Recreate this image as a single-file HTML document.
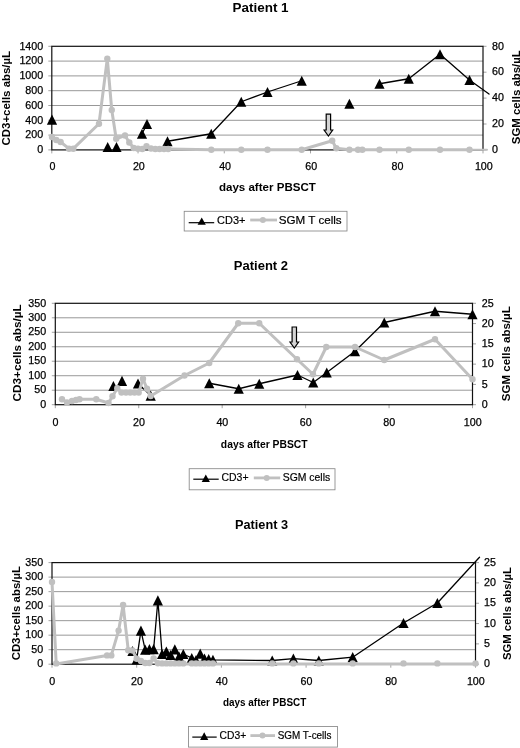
<!DOCTYPE html>
<html><head><meta charset="utf-8"><title>Patients</title><style>
html,body{margin:0;padding:0;background:#fff;}
svg{display:block;}
text{font-family:"Liberation Sans", sans-serif;fill:#000;}
.tk{font-size:10.7px;stroke:#000;stroke-width:0.25px;}
.ti{font-size:13.4px;font-weight:bold;}
.ax{font-size:11.4px;font-weight:bold;}
.lg{font-size:11.6px;stroke:#000;stroke-width:0.2px;}
</style></head>
<body><svg width="520" height="748" viewBox="0 0 520 748">
<rect width="520" height="748" fill="#fff"/>
<line x1="51.8" y1="61.10" x2="483" y2="61.10" stroke="#8c8c8c" stroke-width="0.9"/>
<line x1="51.8" y1="75.90" x2="483" y2="75.90" stroke="#8c8c8c" stroke-width="0.9"/>
<line x1="51.8" y1="90.70" x2="483" y2="90.70" stroke="#8c8c8c" stroke-width="0.9"/>
<line x1="51.8" y1="105.50" x2="483" y2="105.50" stroke="#8c8c8c" stroke-width="0.9"/>
<line x1="51.8" y1="120.30" x2="483" y2="120.30" stroke="#8c8c8c" stroke-width="0.9"/>
<line x1="51.8" y1="135.10" x2="483" y2="135.10" stroke="#8c8c8c" stroke-width="0.9"/>
<line x1="48.3" y1="149.90" x2="51.8" y2="149.90" stroke="#999" stroke-width="0.9"/>
<text x="43.20" y="153.10" text-anchor="end" class="tk">0</text>
<line x1="48.3" y1="135.10" x2="51.8" y2="135.10" stroke="#999" stroke-width="0.9"/>
<text x="43.20" y="138.30" text-anchor="end" class="tk">200</text>
<line x1="48.3" y1="120.30" x2="51.8" y2="120.30" stroke="#999" stroke-width="0.9"/>
<text x="43.20" y="123.50" text-anchor="end" class="tk">400</text>
<line x1="48.3" y1="105.50" x2="51.8" y2="105.50" stroke="#999" stroke-width="0.9"/>
<text x="43.20" y="108.70" text-anchor="end" class="tk">600</text>
<line x1="48.3" y1="90.70" x2="51.8" y2="90.70" stroke="#999" stroke-width="0.9"/>
<text x="43.20" y="93.90" text-anchor="end" class="tk">800</text>
<line x1="48.3" y1="75.90" x2="51.8" y2="75.90" stroke="#999" stroke-width="0.9"/>
<text x="43.20" y="79.10" text-anchor="end" class="tk">1000</text>
<line x1="48.3" y1="61.10" x2="51.8" y2="61.10" stroke="#999" stroke-width="0.9"/>
<text x="43.20" y="64.30" text-anchor="end" class="tk">1200</text>
<line x1="48.3" y1="46.30" x2="51.8" y2="46.30" stroke="#999" stroke-width="0.9"/>
<text x="43.20" y="49.50" text-anchor="end" class="tk">1400</text>
<line x1="483" y1="149.90" x2="486.5" y2="149.90" stroke="#999" stroke-width="0.9"/>
<text x="492.10" y="153.10" text-anchor="start" class="tk">0</text>
<line x1="483" y1="124.00" x2="486.5" y2="124.00" stroke="#999" stroke-width="0.9"/>
<text x="492.10" y="127.20" text-anchor="start" class="tk">20</text>
<line x1="483" y1="98.10" x2="486.5" y2="98.10" stroke="#999" stroke-width="0.9"/>
<text x="492.10" y="101.30" text-anchor="start" class="tk">40</text>
<line x1="483" y1="72.20" x2="486.5" y2="72.20" stroke="#999" stroke-width="0.9"/>
<text x="492.10" y="75.40" text-anchor="start" class="tk">60</text>
<line x1="483" y1="46.30" x2="486.5" y2="46.30" stroke="#999" stroke-width="0.9"/>
<text x="492.10" y="49.50" text-anchor="start" class="tk">80</text>
<line x1="51.80" y1="149.9" x2="51.80" y2="153.4" stroke="#999" stroke-width="0.9"/>
<text x="52.60" y="169.8" text-anchor="middle" class="tk">0</text>
<line x1="138.04" y1="149.9" x2="138.04" y2="153.4" stroke="#999" stroke-width="0.9"/>
<text x="138.84" y="169.8" text-anchor="middle" class="tk">20</text>
<line x1="224.28" y1="149.9" x2="224.28" y2="153.4" stroke="#999" stroke-width="0.9"/>
<text x="225.08" y="169.8" text-anchor="middle" class="tk">40</text>
<line x1="310.52" y1="149.9" x2="310.52" y2="153.4" stroke="#999" stroke-width="0.9"/>
<text x="311.32" y="169.8" text-anchor="middle" class="tk">60</text>
<line x1="396.76" y1="149.9" x2="396.76" y2="153.4" stroke="#999" stroke-width="0.9"/>
<text x="397.56" y="169.8" text-anchor="middle" class="tk">80</text>
<line x1="483.00" y1="149.9" x2="483.00" y2="153.4" stroke="#999" stroke-width="0.9"/>
<text x="483.80" y="169.8" text-anchor="middle" class="tk">100</text>
<rect x="51.8" y="46.3" width="431.2" height="103.60000000000001" fill="none" stroke="#111" stroke-width="1.2"/>
<polyline points="142.00,133.75 147.00,124.00" fill="none" stroke="#000" stroke-width="1.3" stroke-linejoin="round" stroke-linecap="round"/>
<polyline points="167.50,141.25 211.25,133.75 241.25,101.75 267.50,92.00 301.75,80.75" fill="none" stroke="#000" stroke-width="1.3" stroke-linejoin="round" stroke-linecap="round"/>
<polyline points="379.50,83.75 408.75,78.75 440.00,54.25 469.50,80.00 489.00,94.00" fill="none" stroke="#000" stroke-width="1.3" stroke-linejoin="round" stroke-linecap="round"/>
<polygon points="46.90,124.80 57.10,124.80 52.00,114.60" fill="#000"/>
<polygon points="102.60,152.10 112.80,152.10 107.70,141.90" fill="#000"/>
<polygon points="111.40,152.10 121.60,152.10 116.50,141.90" fill="#000"/>
<polygon points="136.90,138.85 147.10,138.85 142.00,128.65" fill="#000"/>
<polygon points="141.90,129.10 152.10,129.10 147.00,118.90" fill="#000"/>
<polygon points="162.40,146.35 172.60,146.35 167.50,136.15" fill="#000"/>
<polygon points="206.15,138.85 216.35,138.85 211.25,128.65" fill="#000"/>
<polygon points="236.15,106.85 246.35,106.85 241.25,96.65" fill="#000"/>
<polygon points="262.40,97.10 272.60,97.10 267.50,86.90" fill="#000"/>
<polygon points="296.65,85.85 306.85,85.85 301.75,75.65" fill="#000"/>
<polygon points="344.30,108.85 354.50,108.85 349.40,98.65" fill="#000"/>
<polygon points="374.40,88.85 384.60,88.85 379.50,78.65" fill="#000"/>
<polygon points="403.65,83.85 413.85,83.85 408.75,73.65" fill="#000"/>
<polygon points="434.90,59.35 445.10,59.35 440.00,49.15" fill="#000"/>
<polygon points="464.40,85.10 474.60,85.10 469.50,74.90" fill="#000"/>
<polyline points="52.00,137.00 56.30,140.00 60.60,142.00 69.00,148.70 73.30,148.70 99.00,123.75 107.30,58.75 111.75,110.00 116.20,138.75 125.00,135.50 129.30,142.50 133.70,148.00 138.00,148.70 142.30,149.00 146.50,146.30 151.00,148.50 155.30,149.00 159.60,149.00 164.00,149.00 168.20,149.00 211.30,149.70 241.30,149.70 267.50,149.70 301.70,149.70 332.20,140.70 336.30,148.30 349.40,149.70 358.00,149.70 362.30,149.70 379.50,149.70 408.80,149.70 440.00,149.70 469.50,149.70" fill="none" stroke="#c0c0c0" stroke-width="3" stroke-linejoin="round" stroke-linecap="round"/>
<circle cx="52.00" cy="137.00" r="3.2" fill="#c0c0c0"/>
<circle cx="56.30" cy="140.00" r="3.2" fill="#c0c0c0"/>
<circle cx="60.60" cy="142.00" r="3.2" fill="#c0c0c0"/>
<circle cx="69.00" cy="148.70" r="3.2" fill="#c0c0c0"/>
<circle cx="73.30" cy="148.70" r="3.2" fill="#c0c0c0"/>
<circle cx="99.00" cy="123.75" r="3.2" fill="#c0c0c0"/>
<circle cx="107.30" cy="58.75" r="3.2" fill="#c0c0c0"/>
<circle cx="111.75" cy="110.00" r="3.2" fill="#c0c0c0"/>
<circle cx="116.20" cy="138.75" r="3.2" fill="#c0c0c0"/>
<circle cx="125.00" cy="135.50" r="3.2" fill="#c0c0c0"/>
<circle cx="129.30" cy="142.50" r="3.2" fill="#c0c0c0"/>
<circle cx="133.70" cy="148.00" r="3.2" fill="#c0c0c0"/>
<circle cx="138.00" cy="148.70" r="3.2" fill="#c0c0c0"/>
<circle cx="142.30" cy="149.00" r="3.2" fill="#c0c0c0"/>
<circle cx="146.50" cy="146.30" r="3.2" fill="#c0c0c0"/>
<circle cx="151.00" cy="148.50" r="3.2" fill="#c0c0c0"/>
<circle cx="155.30" cy="149.00" r="3.2" fill="#c0c0c0"/>
<circle cx="159.60" cy="149.00" r="3.2" fill="#c0c0c0"/>
<circle cx="164.00" cy="149.00" r="3.2" fill="#c0c0c0"/>
<circle cx="168.20" cy="149.00" r="3.2" fill="#c0c0c0"/>
<circle cx="211.30" cy="149.70" r="3.2" fill="#c0c0c0"/>
<circle cx="241.30" cy="149.70" r="3.2" fill="#c0c0c0"/>
<circle cx="267.50" cy="149.70" r="3.2" fill="#c0c0c0"/>
<circle cx="301.70" cy="149.70" r="3.2" fill="#c0c0c0"/>
<circle cx="332.20" cy="140.70" r="3.2" fill="#c0c0c0"/>
<circle cx="336.30" cy="148.30" r="3.2" fill="#c0c0c0"/>
<circle cx="349.40" cy="149.70" r="3.2" fill="#c0c0c0"/>
<circle cx="358.00" cy="149.70" r="3.2" fill="#c0c0c0"/>
<circle cx="362.30" cy="149.70" r="3.2" fill="#c0c0c0"/>
<circle cx="379.50" cy="149.70" r="3.2" fill="#c0c0c0"/>
<circle cx="408.80" cy="149.70" r="3.2" fill="#c0c0c0"/>
<circle cx="440.00" cy="149.70" r="3.2" fill="#c0c0c0"/>
<circle cx="469.50" cy="149.70" r="3.2" fill="#c0c0c0"/>
<polyline points="469.50,149.70 487.00,149.70" fill="none" stroke="#c0c0c0" stroke-width="2" stroke-linejoin="round" stroke-linecap="round"/>
<polygon points="326.20,114.20 330.60,114.20 330.60,130.00 332.70,130.00 328.40,136.00 324.10,130.00 326.20,130.00" fill="#d4d4d4" stroke="#000" stroke-width="1.2" stroke-linejoin="miter"/>
<text x="260.6" y="11.8" text-anchor="middle" class="ti" font-size="13.4" textLength="56" lengthAdjust="spacingAndGlyphs">Patient 1</text>
<text x="267.4" y="191" text-anchor="middle" class="ax" textLength="97" lengthAdjust="spacingAndGlyphs">days after PBSCT</text>
<text transform="translate(10.3,98.2) rotate(-90)" text-anchor="middle" class="ax" textLength="94.5" lengthAdjust="spacingAndGlyphs">CD3+cells abs/µL</text>
<text transform="translate(519.7,97.2) rotate(-90)" text-anchor="middle" class="ax" textLength="94" lengthAdjust="spacingAndGlyphs">SGM cells abs/µL</text>
<rect x="184.2" y="211.3" width="162.80" height="19.70" fill="#fff" stroke="#888" stroke-width="0.85"/>
<line x1="188.7" y1="222.7" x2="214.2" y2="222.7" stroke="#000" stroke-width="1.2"/>
<polygon points="197.60,224.80 205.80,224.80 201.70,217.50" fill="#000"/>
<text x="217.1" y="224.2" class="lg" textLength="28.3" lengthAdjust="spacingAndGlyphs">CD3+</text>
<line x1="250.2" y1="220" x2="277" y2="220" stroke="#c0c0c0" stroke-width="2.8"/>
<circle cx="262.9" cy="220" r="3" fill="#c0c0c0"/>
<text x="278.7" y="224.2" class="lg" textLength="63" lengthAdjust="spacingAndGlyphs">SGM T cells</text>
<line x1="55.3" y1="317.79" x2="472.5" y2="317.79" stroke="#8c8c8c" stroke-width="0.9"/>
<line x1="55.3" y1="332.27" x2="472.5" y2="332.27" stroke="#8c8c8c" stroke-width="0.9"/>
<line x1="55.3" y1="346.76" x2="472.5" y2="346.76" stroke="#8c8c8c" stroke-width="0.9"/>
<line x1="55.3" y1="361.24" x2="472.5" y2="361.24" stroke="#8c8c8c" stroke-width="0.9"/>
<line x1="55.3" y1="375.73" x2="472.5" y2="375.73" stroke="#8c8c8c" stroke-width="0.9"/>
<line x1="55.3" y1="390.21" x2="472.5" y2="390.21" stroke="#8c8c8c" stroke-width="0.9"/>
<line x1="51.8" y1="404.70" x2="55.3" y2="404.70" stroke="#999" stroke-width="0.9"/>
<text x="46.10" y="407.90" text-anchor="end" class="tk">0</text>
<line x1="51.8" y1="390.21" x2="55.3" y2="390.21" stroke="#999" stroke-width="0.9"/>
<text x="46.10" y="393.41" text-anchor="end" class="tk">50</text>
<line x1="51.8" y1="375.73" x2="55.3" y2="375.73" stroke="#999" stroke-width="0.9"/>
<text x="46.10" y="378.93" text-anchor="end" class="tk">100</text>
<line x1="51.8" y1="361.24" x2="55.3" y2="361.24" stroke="#999" stroke-width="0.9"/>
<text x="46.10" y="364.44" text-anchor="end" class="tk">150</text>
<line x1="51.8" y1="346.76" x2="55.3" y2="346.76" stroke="#999" stroke-width="0.9"/>
<text x="46.10" y="349.96" text-anchor="end" class="tk">200</text>
<line x1="51.8" y1="332.27" x2="55.3" y2="332.27" stroke="#999" stroke-width="0.9"/>
<text x="46.10" y="335.47" text-anchor="end" class="tk">250</text>
<line x1="51.8" y1="317.79" x2="55.3" y2="317.79" stroke="#999" stroke-width="0.9"/>
<text x="46.10" y="320.99" text-anchor="end" class="tk">300</text>
<line x1="51.8" y1="303.30" x2="55.3" y2="303.30" stroke="#999" stroke-width="0.9"/>
<text x="46.10" y="306.50" text-anchor="end" class="tk">350</text>
<line x1="472.5" y1="404.70" x2="476.0" y2="404.70" stroke="#999" stroke-width="0.9"/>
<text x="481.70" y="407.90" text-anchor="start" class="tk">0</text>
<line x1="472.5" y1="384.42" x2="476.0" y2="384.42" stroke="#999" stroke-width="0.9"/>
<text x="481.70" y="387.62" text-anchor="start" class="tk">5</text>
<line x1="472.5" y1="364.14" x2="476.0" y2="364.14" stroke="#999" stroke-width="0.9"/>
<text x="481.70" y="367.34" text-anchor="start" class="tk">10</text>
<line x1="472.5" y1="343.86" x2="476.0" y2="343.86" stroke="#999" stroke-width="0.9"/>
<text x="481.70" y="347.06" text-anchor="start" class="tk">15</text>
<line x1="472.5" y1="323.58" x2="476.0" y2="323.58" stroke="#999" stroke-width="0.9"/>
<text x="481.70" y="326.78" text-anchor="start" class="tk">20</text>
<line x1="472.5" y1="303.30" x2="476.0" y2="303.30" stroke="#999" stroke-width="0.9"/>
<text x="481.70" y="306.50" text-anchor="start" class="tk">25</text>
<line x1="55.30" y1="404.7" x2="55.30" y2="408.2" stroke="#999" stroke-width="0.9"/>
<text x="55.50" y="426" text-anchor="middle" class="tk">0</text>
<line x1="138.74" y1="404.7" x2="138.74" y2="408.2" stroke="#999" stroke-width="0.9"/>
<text x="138.94" y="426" text-anchor="middle" class="tk">20</text>
<line x1="222.18" y1="404.7" x2="222.18" y2="408.2" stroke="#999" stroke-width="0.9"/>
<text x="222.38" y="426" text-anchor="middle" class="tk">40</text>
<line x1="305.62" y1="404.7" x2="305.62" y2="408.2" stroke="#999" stroke-width="0.9"/>
<text x="305.82" y="426" text-anchor="middle" class="tk">60</text>
<line x1="389.06" y1="404.7" x2="389.06" y2="408.2" stroke="#999" stroke-width="0.9"/>
<text x="389.26" y="426" text-anchor="middle" class="tk">80</text>
<line x1="472.50" y1="404.7" x2="472.50" y2="408.2" stroke="#999" stroke-width="0.9"/>
<text x="472.70" y="426" text-anchor="middle" class="tk">100</text>
<rect x="55.3" y="303.3" width="417.2" height="101.39999999999998" fill="none" stroke="#111" stroke-width="1.2"/>
<polyline points="138.00,383.50 150.70,395.60" fill="none" stroke="#000" stroke-width="1.3" stroke-linejoin="round" stroke-linecap="round"/>
<polyline points="209.25,383.25 238.75,388.75 259.25,383.75 297.50,375.00 313.25,382.50 326.75,372.50 355.00,351.25 384.25,322.50 435.00,311.25 472.50,314.25" fill="none" stroke="#000" stroke-width="1.3" stroke-linejoin="round" stroke-linecap="round"/>
<polygon points="108.30,391.10 118.50,391.10 113.40,380.90" fill="#000"/>
<polygon points="116.90,385.90 127.10,385.90 122.00,375.70" fill="#000"/>
<polygon points="132.90,388.60 143.10,388.60 138.00,378.40" fill="#000"/>
<polygon points="145.60,400.70 155.80,400.70 150.70,390.50" fill="#000"/>
<polygon points="204.15,388.35 214.35,388.35 209.25,378.15" fill="#000"/>
<polygon points="233.65,393.85 243.85,393.85 238.75,383.65" fill="#000"/>
<polygon points="254.15,388.85 264.35,388.85 259.25,378.65" fill="#000"/>
<polygon points="292.40,380.10 302.60,380.10 297.50,369.90" fill="#000"/>
<polygon points="308.15,387.60 318.35,387.60 313.25,377.40" fill="#000"/>
<polygon points="321.65,377.60 331.85,377.60 326.75,367.40" fill="#000"/>
<polygon points="349.90,356.35 360.10,356.35 355.00,346.15" fill="#000"/>
<polygon points="379.15,327.60 389.35,327.60 384.25,317.40" fill="#000"/>
<polygon points="429.90,316.35 440.10,316.35 435.00,306.15" fill="#000"/>
<polygon points="467.40,319.35 477.60,319.35 472.50,309.15" fill="#000"/>
<polyline points="62.00,399.25 67.00,402.50 72.00,401.00 76.00,400.00 79.50,399.25 96.25,399.25 108.50,403.00 112.50,396.20 117.30,388.20 121.50,392.60 126.00,392.60 130.20,392.60 134.50,392.60 138.70,392.60 143.00,378.75 147.00,388.70 150.70,396.00 184.50,375.50 209.25,363.00 238.25,323.25 259.25,323.25 297.00,359.25 313.00,374.25 326.25,347.00 355.00,347.00 384.25,360.00 435.00,339.25 472.50,379.25" fill="none" stroke="#c0c0c0" stroke-width="3" stroke-linejoin="round" stroke-linecap="round"/>
<circle cx="62.00" cy="399.25" r="3.2" fill="#c0c0c0"/>
<circle cx="67.00" cy="402.50" r="3.2" fill="#c0c0c0"/>
<circle cx="72.00" cy="401.00" r="3.2" fill="#c0c0c0"/>
<circle cx="76.00" cy="400.00" r="3.2" fill="#c0c0c0"/>
<circle cx="79.50" cy="399.25" r="3.2" fill="#c0c0c0"/>
<circle cx="96.25" cy="399.25" r="3.2" fill="#c0c0c0"/>
<circle cx="108.50" cy="403.00" r="3.2" fill="#c0c0c0"/>
<circle cx="112.50" cy="396.20" r="3.2" fill="#c0c0c0"/>
<circle cx="117.30" cy="388.20" r="3.2" fill="#c0c0c0"/>
<circle cx="121.50" cy="392.60" r="3.2" fill="#c0c0c0"/>
<circle cx="126.00" cy="392.60" r="3.2" fill="#c0c0c0"/>
<circle cx="130.20" cy="392.60" r="3.2" fill="#c0c0c0"/>
<circle cx="134.50" cy="392.60" r="3.2" fill="#c0c0c0"/>
<circle cx="138.70" cy="392.60" r="3.2" fill="#c0c0c0"/>
<circle cx="143.00" cy="378.75" r="3.2" fill="#c0c0c0"/>
<circle cx="147.00" cy="388.70" r="3.2" fill="#c0c0c0"/>
<circle cx="150.70" cy="396.00" r="3.2" fill="#c0c0c0"/>
<circle cx="184.50" cy="375.50" r="3.2" fill="#c0c0c0"/>
<circle cx="209.25" cy="363.00" r="3.2" fill="#c0c0c0"/>
<circle cx="238.25" cy="323.25" r="3.2" fill="#c0c0c0"/>
<circle cx="259.25" cy="323.25" r="3.2" fill="#c0c0c0"/>
<circle cx="297.00" cy="359.25" r="3.2" fill="#c0c0c0"/>
<circle cx="313.00" cy="374.25" r="3.2" fill="#c0c0c0"/>
<circle cx="326.25" cy="347.00" r="3.2" fill="#c0c0c0"/>
<circle cx="355.00" cy="347.00" r="3.2" fill="#c0c0c0"/>
<circle cx="384.25" cy="360.00" r="3.2" fill="#c0c0c0"/>
<circle cx="435.00" cy="339.25" r="3.2" fill="#c0c0c0"/>
<circle cx="472.50" cy="379.25" r="3.2" fill="#c0c0c0"/>
<polygon points="292.10,327.00 296.50,327.00 296.50,342.00 298.60,342.00 294.30,348.00 290.00,342.00 292.10,342.00" fill="#d4d4d4" stroke="#000" stroke-width="1.2" stroke-linejoin="miter"/>
<text x="260.9" y="270" text-anchor="middle" class="ti" font-size="14" textLength="54.25" lengthAdjust="spacingAndGlyphs">Patient 2</text>
<text x="264.2" y="447.9" text-anchor="middle" class="ax" textLength="86.7" lengthAdjust="spacingAndGlyphs">days after PBSCT</text>
<text transform="translate(20.5,352.9) rotate(-90)" text-anchor="middle" class="ax" textLength="97" lengthAdjust="spacingAndGlyphs">CD3+cells abs/µL</text>
<text transform="translate(510.2,353.7) rotate(-90)" text-anchor="middle" class="ax" textLength="95" lengthAdjust="spacingAndGlyphs">SGM cells abs/µL</text>
<rect x="189.2" y="468.7" width="145.80" height="21.10" fill="#fff" stroke="#888" stroke-width="0.85"/>
<line x1="193.3" y1="479.2" x2="218.7" y2="479.2" stroke="#000" stroke-width="1.2"/>
<polygon points="201.70,482.10 209.90,482.10 205.80,474.40" fill="#000"/>
<text x="221.5" y="481.2" class="lg" textLength="27" lengthAdjust="spacingAndGlyphs">CD3+</text>
<line x1="253.8" y1="477.9" x2="280.2" y2="477.9" stroke="#c0c0c0" stroke-width="2.8"/>
<circle cx="266.7" cy="477.9" r="3" fill="#c0c0c0"/>
<text x="282.7" y="481.2" class="lg" textLength="47.5" lengthAdjust="spacingAndGlyphs">SGM cells</text>
<line x1="52" y1="577.11" x2="475.5" y2="577.11" stroke="#8c8c8c" stroke-width="0.9"/>
<line x1="52" y1="591.63" x2="475.5" y2="591.63" stroke="#8c8c8c" stroke-width="0.9"/>
<line x1="52" y1="606.14" x2="475.5" y2="606.14" stroke="#8c8c8c" stroke-width="0.9"/>
<line x1="52" y1="620.66" x2="475.5" y2="620.66" stroke="#8c8c8c" stroke-width="0.9"/>
<line x1="52" y1="635.17" x2="475.5" y2="635.17" stroke="#8c8c8c" stroke-width="0.9"/>
<line x1="52" y1="649.69" x2="475.5" y2="649.69" stroke="#8c8c8c" stroke-width="0.9"/>
<line x1="48.5" y1="664.20" x2="52" y2="664.20" stroke="#999" stroke-width="0.9"/>
<text x="43.10" y="667.40" text-anchor="end" class="tk">0</text>
<line x1="48.5" y1="649.69" x2="52" y2="649.69" stroke="#999" stroke-width="0.9"/>
<text x="43.10" y="652.89" text-anchor="end" class="tk">50</text>
<line x1="48.5" y1="635.17" x2="52" y2="635.17" stroke="#999" stroke-width="0.9"/>
<text x="43.10" y="638.37" text-anchor="end" class="tk">100</text>
<line x1="48.5" y1="620.66" x2="52" y2="620.66" stroke="#999" stroke-width="0.9"/>
<text x="43.10" y="623.86" text-anchor="end" class="tk">150</text>
<line x1="48.5" y1="606.14" x2="52" y2="606.14" stroke="#999" stroke-width="0.9"/>
<text x="43.10" y="609.34" text-anchor="end" class="tk">200</text>
<line x1="48.5" y1="591.63" x2="52" y2="591.63" stroke="#999" stroke-width="0.9"/>
<text x="43.10" y="594.83" text-anchor="end" class="tk">250</text>
<line x1="48.5" y1="577.11" x2="52" y2="577.11" stroke="#999" stroke-width="0.9"/>
<text x="43.10" y="580.31" text-anchor="end" class="tk">300</text>
<line x1="48.5" y1="562.60" x2="52" y2="562.60" stroke="#999" stroke-width="0.9"/>
<text x="43.10" y="565.80" text-anchor="end" class="tk">350</text>
<line x1="475.5" y1="664.20" x2="479.0" y2="664.20" stroke="#999" stroke-width="0.9"/>
<text x="484.10" y="667.40" text-anchor="start" class="tk">0</text>
<line x1="475.5" y1="643.88" x2="479.0" y2="643.88" stroke="#999" stroke-width="0.9"/>
<text x="484.10" y="647.08" text-anchor="start" class="tk">5</text>
<line x1="475.5" y1="623.56" x2="479.0" y2="623.56" stroke="#999" stroke-width="0.9"/>
<text x="484.10" y="626.76" text-anchor="start" class="tk">10</text>
<line x1="475.5" y1="603.24" x2="479.0" y2="603.24" stroke="#999" stroke-width="0.9"/>
<text x="484.10" y="606.44" text-anchor="start" class="tk">15</text>
<line x1="475.5" y1="582.92" x2="479.0" y2="582.92" stroke="#999" stroke-width="0.9"/>
<text x="484.10" y="586.12" text-anchor="start" class="tk">20</text>
<line x1="475.5" y1="562.60" x2="479.0" y2="562.60" stroke="#999" stroke-width="0.9"/>
<text x="484.10" y="565.80" text-anchor="start" class="tk">25</text>
<line x1="52.00" y1="664.2" x2="52.00" y2="667.7" stroke="#999" stroke-width="0.9"/>
<text x="52.30" y="684.5" text-anchor="middle" class="tk">0</text>
<line x1="136.70" y1="664.2" x2="136.70" y2="667.7" stroke="#999" stroke-width="0.9"/>
<text x="137.00" y="684.5" text-anchor="middle" class="tk">20</text>
<line x1="221.40" y1="664.2" x2="221.40" y2="667.7" stroke="#999" stroke-width="0.9"/>
<text x="221.70" y="684.5" text-anchor="middle" class="tk">40</text>
<line x1="306.10" y1="664.2" x2="306.10" y2="667.7" stroke="#999" stroke-width="0.9"/>
<text x="306.40" y="684.5" text-anchor="middle" class="tk">60</text>
<line x1="390.80" y1="664.2" x2="390.80" y2="667.7" stroke="#999" stroke-width="0.9"/>
<text x="391.10" y="684.5" text-anchor="middle" class="tk">80</text>
<line x1="475.50" y1="664.2" x2="475.50" y2="667.7" stroke="#999" stroke-width="0.9"/>
<text x="475.80" y="684.5" text-anchor="middle" class="tk">100</text>
<rect x="52" y="562.6" width="423.5" height="101.60000000000002" fill="none" stroke="#111" stroke-width="1.2"/>
<polyline points="132.47,651.00 136.70,659.50 140.94,630.60 145.17,649.60 149.41,649.20 153.64,649.20 157.88,600.40 162.11,654.00 166.34,651.50 170.58,655.00 174.81,649.40 179.05,656.50 183.28,654.00 191.75,658.00 195.99,660.00 200.22,653.70 204.46,658.50 208.69,659.00 212.93,659.80 272.22,660.50 293.39,658.60 318.81,660.50 352.69,657.20 403.50,623.00 437.38,603.00 479.50,557.30" fill="none" stroke="#000" stroke-width="1.3" stroke-linejoin="round" stroke-linecap="round"/>
<polygon points="127.37,656.10 137.56,656.10 132.47,645.90" fill="#000"/>
<polygon points="131.60,664.60 141.80,664.60 136.70,654.40" fill="#000"/>
<polygon points="135.84,635.70 146.03,635.70 140.94,625.50" fill="#000"/>
<polygon points="140.07,654.70 150.27,654.70 145.17,644.50" fill="#000"/>
<polygon points="144.31,654.30 154.50,654.30 149.41,644.10" fill="#000"/>
<polygon points="148.54,654.30 158.74,654.30 153.64,644.10" fill="#000"/>
<polygon points="152.78,605.50 162.97,605.50 157.88,595.30" fill="#000"/>
<polygon points="157.01,659.10 167.21,659.10 162.11,648.90" fill="#000"/>
<polygon points="161.25,656.60 171.44,656.60 166.34,646.40" fill="#000"/>
<polygon points="165.48,660.10 175.68,660.10 170.58,649.90" fill="#000"/>
<polygon points="169.72,654.50 179.91,654.50 174.81,644.30" fill="#000"/>
<polygon points="173.95,661.60 184.15,661.60 179.05,651.40" fill="#000"/>
<polygon points="178.19,659.10 188.38,659.10 183.28,648.90" fill="#000"/>
<polygon points="186.66,663.10 196.85,663.10 191.75,652.90" fill="#000"/>
<polygon points="190.89,665.10 201.09,665.10 195.99,654.90" fill="#000"/>
<polygon points="195.12,658.80 205.32,658.80 200.22,648.60" fill="#000"/>
<polygon points="199.36,663.60 209.56,663.60 204.46,653.40" fill="#000"/>
<polygon points="203.59,664.10 213.79,664.10 208.69,653.90" fill="#000"/>
<polygon points="207.83,664.90 218.03,664.90 212.93,654.70" fill="#000"/>
<polygon points="267.12,665.60 277.32,665.60 272.22,655.40" fill="#000"/>
<polygon points="288.29,663.70 298.50,663.70 293.39,653.50" fill="#000"/>
<polygon points="313.70,665.60 323.91,665.60 318.81,655.40" fill="#000"/>
<polygon points="347.58,662.30 357.79,662.30 352.69,652.10" fill="#000"/>
<polygon points="398.40,628.10 408.61,628.10 403.50,617.90" fill="#000"/>
<polygon points="432.28,608.10 442.49,608.10 437.38,597.90" fill="#000"/>
<polyline points="52.00,582.00 56.23,664.10 107.06,655.40 111.29,655.40 118.60,630.60 123.10,605.00 128.23,650.20 132.47,650.40 136.70,658.80 140.94,661.00 145.17,663.70 149.41,663.70 153.64,658.50 157.88,663.90 162.11,664.10 166.34,664.10 170.58,664.10 174.81,664.10 179.05,664.10 183.28,664.10 191.75,664.10 195.99,664.10 200.22,664.10 204.46,664.10 208.69,664.10 212.93,664.10 272.22,664.10 293.39,664.10 318.81,664.10 352.69,664.10 403.50,664.10 437.38,664.10 475.50,664.10" fill="none" stroke="#c0c0c0" stroke-width="3" stroke-linejoin="round" stroke-linecap="round"/>
<circle cx="52.00" cy="582.00" r="3.2" fill="#c0c0c0"/>
<circle cx="56.23" cy="663.40" r="3.2" fill="#c0c0c0"/>
<circle cx="107.06" cy="655.40" r="3.2" fill="#c0c0c0"/>
<circle cx="111.29" cy="655.40" r="3.2" fill="#c0c0c0"/>
<circle cx="118.60" cy="630.60" r="3.2" fill="#c0c0c0"/>
<circle cx="123.10" cy="605.00" r="3.2" fill="#c0c0c0"/>
<circle cx="128.23" cy="650.20" r="3.2" fill="#c0c0c0"/>
<circle cx="132.47" cy="650.40" r="3.2" fill="#c0c0c0"/>
<circle cx="136.70" cy="658.80" r="3.2" fill="#c0c0c0"/>
<circle cx="140.94" cy="661.00" r="3.2" fill="#c0c0c0"/>
<circle cx="145.17" cy="663.00" r="3.2" fill="#c0c0c0"/>
<circle cx="149.41" cy="663.00" r="3.2" fill="#c0c0c0"/>
<circle cx="153.64" cy="658.50" r="3.2" fill="#c0c0c0"/>
<circle cx="157.88" cy="663.20" r="3.2" fill="#c0c0c0"/>
<circle cx="162.11" cy="663.40" r="3.2" fill="#c0c0c0"/>
<circle cx="166.34" cy="663.40" r="3.2" fill="#c0c0c0"/>
<circle cx="170.58" cy="663.40" r="3.2" fill="#c0c0c0"/>
<circle cx="174.81" cy="663.40" r="3.2" fill="#c0c0c0"/>
<circle cx="179.05" cy="663.40" r="3.2" fill="#c0c0c0"/>
<circle cx="183.28" cy="663.40" r="3.2" fill="#c0c0c0"/>
<circle cx="191.75" cy="663.40" r="3.2" fill="#c0c0c0"/>
<circle cx="195.99" cy="663.40" r="3.2" fill="#c0c0c0"/>
<circle cx="200.22" cy="663.40" r="3.2" fill="#c0c0c0"/>
<circle cx="204.46" cy="663.40" r="3.2" fill="#c0c0c0"/>
<circle cx="208.69" cy="663.40" r="3.2" fill="#c0c0c0"/>
<circle cx="212.93" cy="663.40" r="3.2" fill="#c0c0c0"/>
<circle cx="272.22" cy="663.40" r="3.2" fill="#c0c0c0"/>
<circle cx="293.39" cy="663.40" r="3.2" fill="#c0c0c0"/>
<circle cx="318.81" cy="663.40" r="3.2" fill="#c0c0c0"/>
<circle cx="352.69" cy="663.40" r="3.2" fill="#c0c0c0"/>
<circle cx="403.50" cy="663.40" r="3.2" fill="#c0c0c0"/>
<circle cx="437.38" cy="663.40" r="3.2" fill="#c0c0c0"/>
<circle cx="475.50" cy="663.40" r="3.2" fill="#c0c0c0"/>
<text x="261.5" y="529.25" text-anchor="middle" class="ti" font-size="14" textLength="53" lengthAdjust="spacingAndGlyphs">Patient 3</text>
<text x="264.6" y="706.25" text-anchor="middle" class="ax" textLength="83.3" lengthAdjust="spacingAndGlyphs">days after PBSCT</text>
<text transform="translate(19.5,613.2) rotate(-90)" text-anchor="middle" class="ax" textLength="94.3" lengthAdjust="spacingAndGlyphs">CD3+cells abs/µL</text>
<text transform="translate(511.2,613.5) rotate(-90)" text-anchor="middle" class="ax" textLength="93" lengthAdjust="spacingAndGlyphs">SGM cells abs/µL</text>
<rect x="188.5" y="726.5" width="149.00" height="20.60" fill="#fff" stroke="#888" stroke-width="0.85"/>
<line x1="192.3" y1="737.1" x2="216.7" y2="737.1" stroke="#000" stroke-width="1.2"/>
<polygon points="200.10,740.00 208.30,740.00 204.20,732.30" fill="#000"/>
<text x="219.6" y="739" class="lg" textLength="26.6" lengthAdjust="spacingAndGlyphs">CD3+</text>
<line x1="250.4" y1="735.6" x2="275" y2="735.6" stroke="#c0c0c0" stroke-width="2.8"/>
<circle cx="262.5" cy="735.6" r="3" fill="#c0c0c0"/>
<text x="277.7" y="739" class="lg" textLength="53.8" lengthAdjust="spacingAndGlyphs">SGM T-cells</text>
</svg></body></html>
